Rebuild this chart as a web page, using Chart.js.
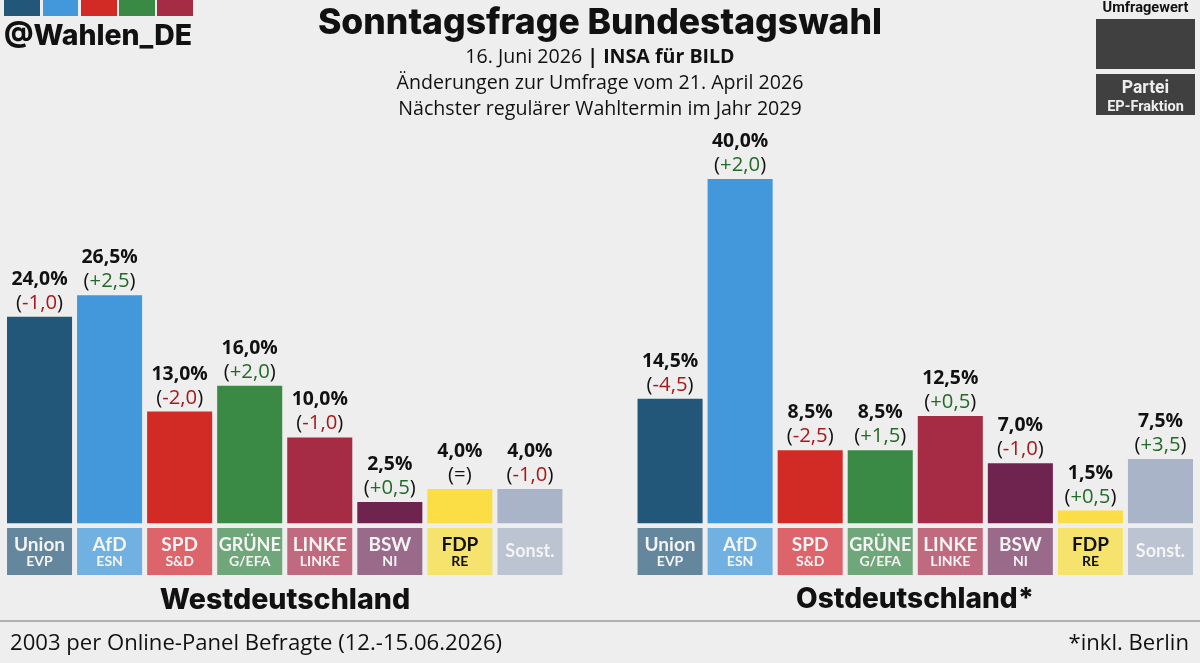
<!DOCTYPE html>
<html lang="de">
<head>
<meta charset="utf-8">
<title>Sonntagsfrage Bundestagswahl</title>
<script src="https://cdn.jsdelivr.net/npm/chart.js@4"></script>
<style>
    html, body { margin: 0; padding: 0; background: #eeeeee; }
    body { position: relative; width: 1200px; height: 663px; overflow: hidden; color: #111; font-family: "Open Sans", sans-serif; }
    #chart { position: absolute; left: 0; top: 0; }
    .txt { position: absolute; white-space: nowrap; line-height: 1; }
    .c { left: 0; width: 1200px; text-align: center; }
    .box { position: absolute; }
</style>
</head>
<body>
<canvas id="chart" width="1200" height="663"></canvas>

<div class="box" style="left:4px;top:0;width:36px;height:16px;background:#23577a"></div>
<div class="box" style="left:43px;top:0;width:35px;height:16px;background:#4298db"></div>
<div class="box" style="left:81px;top:0;width:36px;height:16px;background:#d22b26"></div>
<div class="box" style="left:119px;top:0;width:36px;height:16px;background:#3a8a45"></div>
<div class="box" style="left:157px;top:0;width:36px;height:16px;background:#a62b45"></div>
<div class="txt" style="left:4px;top:17px;font:800 28.4px Inter,sans-serif;">@Wahlen_DE</div>

<div class="txt c" style="top:0;font:800 35.5px Inter,sans-serif;">Sonntagsfrage Bundestagswahl</div>
<div class="txt c" style="top:46px;font-size:19.6px;">16. Juni 2026 <b>| INSA für BILD</b></div>
<div class="txt c" style="top:72px;font-size:19.6px;">Änderungen zur Umfrage vom 21. April 2026</div>
<div class="txt c" style="top:98px;font-size:19.6px;">Nächster regulärer Wahltermin im Jahr 2029</div>

<div class="txt" style="left:1096px;width:99px;text-align:center;top:-2px;font:700 14.6px Roboto,sans-serif;">Umfragewert</div>
<div class="box" style="left:1096px;top:19px;width:99px;height:50px;background:#404040"></div>
<div class="box" style="left:1096px;top:74px;width:99px;height:41px;background:#404040"></div>
<div class="txt" style="left:1096px;width:99px;text-align:center;top:77px;font:700 17.5px Roboto,sans-serif;color:#eee;">Partei</div>
<div class="txt" style="left:1096px;width:99px;text-align:center;top:98px;font:700 14.5px Roboto,sans-serif;color:#eee;">EP-Fraktion</div>

<div class="txt" style="left:0;width:570px;text-align:center;top:581px;font:800 28.6px Inter,sans-serif;">Westdeutschland</div>
<div class="txt" style="left:630px;width:570px;text-align:center;top:581px;font:800 28px Inter,sans-serif;">Ostdeutschland*</div>
<div class="box" style="left:0;top:620px;width:1200px;height:2px;background:#b0b0b0"></div>
<div class="txt" style="left:10px;top:630px;font-size:22.1px;">2003 per Online-Panel Befragte (12.-15.06.2026)</div>
<div class="txt" style="right:11px;top:630px;font-size:22.1px;">*inkl. Berlin</div>

<script>
const parties = ['Union', 'AfD', 'SPD', 'GRÜNE', 'LINKE', 'BSW', 'FDP', 'Sonst.'];
const factions = ['EVP', 'ESN', 'S&D', 'G/EFA', 'LINKE', 'NI', 'RE', ''];
const barColors = ['#23577a', '#4298db', '#d22b26', '#3a8a45', '#a62b45', '#6f2450', '#fbdd45', '#a9b4c8'];
const tileColors = ['#64879d', '#70b1e1', '#dc646a', '#6fa67a', '#c06a80', '#9a6a8a', '#f6e36e', '#bcc3d1'];

const westValues = [24.0, 26.5, 13.0, 16.0, 10.0, 2.5, 4.0, 4.0];
const westChanges = ['-1,0', '+2,5', '-2,0', '+2,0', '-1,0', '+0,5', '=', '-1,0'];
const eastValues = [14.5, 40.0, 8.5, 8.5, 12.5, 7.0, 1.5, 7.5];
const eastChanges = ['-4,5', '+2,0', '-2,5', '+1,5', '+0,5', '-1,0', '+0,5', '+3,5'];

// one empty category between the two regions
const labels = [...parties, '', ...parties];
const values = [...westValues, null, ...eastValues];
const changes = [...westChanges, '', ...eastChanges];
const colors = [...barColors, 'transparent', ...barColors];
const tiles = [...tileColors, '', ...tileColors];
const subs = [...factions, '', ...factions];

function fmt(v) {
    return v.toFixed(1).replace('.', ',') + '%';
}

const labelPlugin = {
    id: 'labelPlugin',
    afterDatasetsDraw(chart) {
        const ctx = chart.ctx;
        const x = chart.scales.x;
        const y = chart.scales.y;
        ctx.save();
        ctx.textAlign = 'center';
        ctx.textBaseline = 'alphabetic';
        labels.forEach((name, i) => {
            if (!name) return;
            const cx = x.getPixelForValue(i);
            const top = y.getPixelForValue(values[i]);

            // value and change above the bar
            ctx.fillStyle = '#111';
            ctx.font = 'bold 19.4px "Open Sans"';
            ctx.fillText(fmt(values[i]), cx, top - 32);

            const chg = changes[i];
            ctx.font = '20.3px "Open Sans"';
            const w = ctx.measureText('(' + chg + ')').width;
            const left = cx - w / 2;
            ctx.textAlign = 'left';
            ctx.fillText('(', left, top - 8);
            ctx.fillStyle = chg[0] === '+' ? '#226b26' : chg[0] === '-' ? '#a81818' : '#111';
            ctx.fillText(chg, left + ctx.measureText('(').width, top - 8);
            ctx.fillStyle = '#111';
            ctx.fillText(')', left + w - ctx.measureText(')').width, top - 8);
            ctx.textAlign = 'center';

            // party tile below the bar
            ctx.fillStyle = tiles[i];
            ctx.fillRect(cx - 32.5, 528, 65, 47);
            ctx.fillStyle = name === 'FDP' ? '#111' : '#f4f4f4';
            if (subs[i]) {
                ctx.font = 'bold ' + (name === 'GRÜNE' ? 18 : 19) + 'px Lato';
                ctx.fillText(name, cx, 551);
                ctx.font = 'bold 14px Lato';
                ctx.fillText(subs[i], cx, 566);
            } else {
                ctx.font = 'bold 18px Lato';
                ctx.fillText(name, cx, 557);
            }
        });
        ctx.restore();
    }
};

new Chart(document.getElementById('chart'), {
    type: 'bar',
    data: {
        labels: labels,
        datasets: [{
            data: values,
            backgroundColor: colors,
            barPercentage: 65 / 70,
            categoryPercentage: 1
        }]
    },
    options: {
        responsive: false,
        animation: false,
        layout: { padding: { left: 4.5, right: 4.5, top: 6.9, bottom: 139.5 } },
        plugins: { legend: { display: false }, tooltip: { enabled: false } },
        scales: {
            x: { display: false },
            y: { display: false, min: 0, max: 60 }
        }
    },
    plugins: [labelPlugin]
});
</script>
</body>
</html>
